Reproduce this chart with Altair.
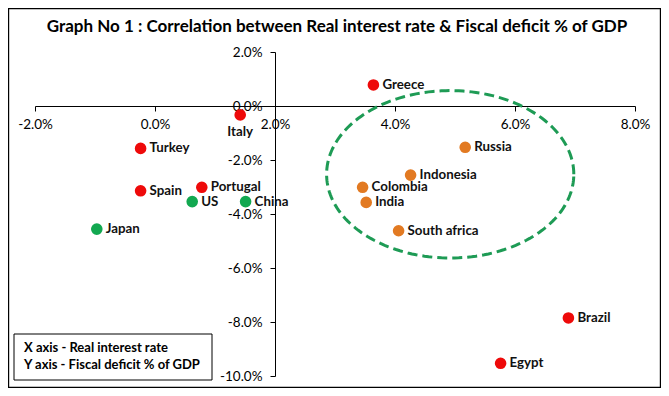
import altair as alt
import numpy as np
import pandas as pd

# ---- data ----
countries = ["Greece", "Italy", "Turkey", "Spain", "Portugal", "US", "China", "Japan",
             "Russia", "Indonesia", "Colombia", "India", "South africa", "Brazil", "Egypt"]
real_rate = [3.64, 1.42, -0.24, -0.24, 0.78, 0.62, 1.51, -0.97,
             5.17, 4.26, 3.46, 3.52, 4.06, 6.89, 5.76]
fiscal_deficit = [0.78, -0.33, -1.57, -3.14, -3.01, -3.54, -3.54, -4.56,
                  -1.53, -2.56, -3.01, -3.57, -4.62, -7.85, -9.53]
group = ["red", "red", "red", "red", "red", "green", "green", "green",
         "orange", "orange", "orange", "orange", "orange", "red", "red"]

title_text = "Graph No 1 : Correlation between Real interest rate & Fiscal deficit % of GDP"
note_lines = ["X axis - Real interest rate", "Y axis - Fiscal deficit % of GDP"]
x_ticks = [-2, 0, 2, 4, 6, 8]
y_ticks = [2, 0, -2, -4, -6, -8, -10]

# highlight ellipse (centre and radii in data units)
ellipse_center = (4.92, -2.53)
ellipse_radius = (2.06, 3.10)

group_domain = ["red", "green", "orange"]
group_colors = ["#EE0A0A", "#12A850", "#E27A22"]

df = pd.DataFrame({"country": countries, "rate": real_rate,
                   "deficit": fiscal_deficit, "group": group})

t = np.linspace(0, 2 * np.pi, 181)
ell = pd.DataFrame({"i": np.arange(len(t)),
                    "x": ellipse_center[0] + ellipse_radius[0] * np.cos(t),
                    "y": ellipse_center[1] + ellipse_radius[1] * np.sin(t)})

W, H = 600, 324
FONT = "Lato"
label_expr = "(datum.value < 0 ? '-' : '') + format(abs(datum.value), '.1f') + '%'"

xs = alt.Scale(domain=[-2, 8], nice=False, zero=False)
ys = alt.Scale(domain=[-10, 2], nice=False, zero=False)

x_axis = alt.Axis(values=x_ticks, labelExpr=label_expr, orient="bottom",
                  offset=-270, grid=False, title=None, domainColor="black",
                  tickColor="black", tickSize=5, labelFont=FONT, labelFontSize=13.5,
                  labelColor="black", labelPadding=6, labelOverlap=False,
                  labelFlush=False, labelBound=False)
y_axis = alt.Axis(values=y_ticks, labelExpr=label_expr, orient="left",
                  offset=-240, grid=False, title=None, domainColor="black",
                  tickColor="black", tickSize=5, labelFont=FONT, labelFontSize=13.5,
                  labelColor="black", labelPadding=8, labelOverlap=False,
                  labelFlush=False, labelBound=False)


def X(field):
    return alt.X(field, scale=xs, axis=x_axis)


def Y(field):
    return alt.Y(field, scale=ys, axis=y_axis)


ellipse = alt.Chart(ell).mark_line(
    color="#1E9B55", strokeWidth=3, strokeDash=[10, 5]
).encode(x=X("x:Q"), y=Y("y:Q"), order="i:Q")

points = alt.Chart(df).mark_circle(size=135, opacity=1).encode(
    x=X("rate:Q"), y=Y("deficit:Q"),
    color=alt.Color("group:N", scale=alt.Scale(domain=group_domain, range=group_colors),
                    legend=None),
)

labels = alt.Chart(df).transform_filter(alt.datum.country != "Italy").mark_text(
    align="left", baseline="middle", dx=9, font=FONT, fontSize=13.3,
    fontWeight="bold", color="#111111"
).encode(x=X("rate:Q"), y=Y("deficit:Q"), text="country:N")

italy = alt.Chart(df).transform_filter(alt.datum.country == "Italy").mark_text(
    align="center", baseline="middle", dy=17, font=FONT, fontSize=13.3,
    fontWeight="bold", color="#111111"
).encode(x=X("rate:Q"), y=Y("deficit:Q"), text="country:N")

one = pd.DataFrame({"a": [0]})
title = alt.Chart(one).mark_text(
    text=title_text, align="center", baseline="middle", font=FONT, fontSize=17,
    fontWeight="bold", color="black"
).encode(x=alt.value(302), y=alt.value(-25))

note_box = alt.Chart(one).mark_rect(fill="white", stroke="black", strokeWidth=1).encode(
    x=alt.value(-21), x2=alt.value(177), y=alt.value(282), y2=alt.value(328)
)
note_text = alt.Chart(one).mark_text(
    text=note_lines, align="left", baseline="top", lineHeight=17.4,
    font=FONT, fontSize=13, fontWeight="bold", color="black"
).encode(x=alt.value(-11), y=alt.value(289.5))

border = alt.Chart(one).mark_rect(filled=False, stroke="black", strokeWidth=1.2).encode(
    x=alt.value(-26.4), x2=alt.value(625.4), y=alt.value(-43.4), y2=alt.value(335.4)
)

chart = alt.layer(ellipse, points, labels, italy, title, note_box, note_text, border).properties(
    width=W, height=H,
    autosize=alt.AutoSizeParams(type="none"),
    padding={"left": 27, "top": 44, "right": 26, "bottom": 12},
).configure_view(stroke=None)

chart.save("out.html", embed_options={"renderer": "svg", "actions": False})
